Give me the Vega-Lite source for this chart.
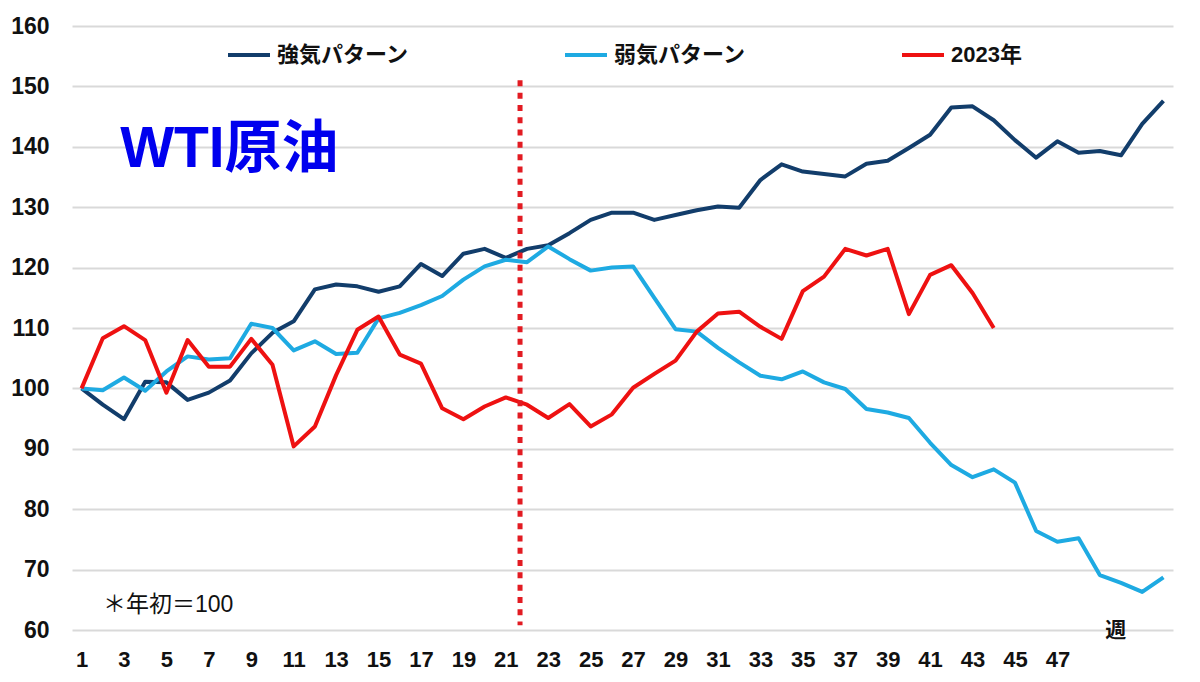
{
  "$schema": "https://vega.github.io/schema/vega-lite/v6.json",
  "description": "WTI原油 強気/弱気パターンと2023年の推移（年初=100）",
  "width": 1101,
  "height": 604,
  "autosize": "none",
  "padding": {"left": 72, "top": 26, "right": 27, "bottom": 52},
  "background": "white",
  "config": {
    "view": {"stroke": null},
    "axis": {
      "labelFont": "Liberation Sans",
      "labelFontWeight": "bold",
      "labelColor": "#111111",
      "domain": false,
      "ticks": false,
      "title": null
    },
    "legend": {
      "orient": "none",
      "legendX": 154,
      "legendY": 6,
      "direction": "horizontal",
      "title": null,
      "symbolType": "stroke",
      "symbolSize": 1764,
      "symbolStrokeWidth": 4,
      "labelFont": "Liberation Sans, Noto Sans CJK JP",
      "labelFontSize": 22,
      "labelFontWeight": "bold",
      "labelColor": "#111111",
      "labelOffset": 5,
      "columnPadding": 147
    }
  },
  "datasets": {
    "series": [
      {"week": 1, "series": "強気パターン", "value": 100},
      {"week": 2, "series": "強気パターン", "value": 97.3},
      {"week": 3, "series": "強気パターン", "value": 94.9},
      {"week": 4, "series": "強気パターン", "value": 101.1},
      {"week": 5, "series": "強気パターン", "value": 101},
      {"week": 6, "series": "強気パターン", "value": 98.1},
      {"week": 7, "series": "強気パターン", "value": 99.3},
      {"week": 8, "series": "強気パターン", "value": 101.3},
      {"week": 9, "series": "強気パターン", "value": 105.8},
      {"week": 10, "series": "強気パターン", "value": 109.2},
      {"week": 11, "series": "強気パターン", "value": 111.1},
      {"week": 12, "series": "強気パターン", "value": 116.4},
      {"week": 13, "series": "強気パターン", "value": 117.2},
      {"week": 14, "series": "強気パターン", "value": 116.9},
      {"week": 15, "series": "強気パターン", "value": 116},
      {"week": 16, "series": "強気パターン", "value": 116.9},
      {"week": 17, "series": "強気パターン", "value": 120.6},
      {"week": 18, "series": "強気パターン", "value": 118.6},
      {"week": 19, "series": "強気パターン", "value": 122.3},
      {"week": 20, "series": "強気パターン", "value": 123.1},
      {"week": 21, "series": "強気パターン", "value": 121.6},
      {"week": 22, "series": "強気パターン", "value": 123.1},
      {"week": 23, "series": "強気パターン", "value": 123.7},
      {"week": 24, "series": "強気パターン", "value": 125.7},
      {"week": 25, "series": "強気パターン", "value": 127.9},
      {"week": 26, "series": "強気パターン", "value": 129.1},
      {"week": 27, "series": "強気パターン", "value": 129.1},
      {"week": 28, "series": "強気パターン", "value": 127.9},
      {"week": 29, "series": "強気パターン", "value": 128.7},
      {"week": 30, "series": "強気パターン", "value": 129.5},
      {"week": 31, "series": "強気パターン", "value": 130.1},
      {"week": 32, "series": "強気パターン", "value": 129.9},
      {"week": 33, "series": "強気パターン", "value": 134.5},
      {"week": 34, "series": "強気パターン", "value": 137.1},
      {"week": 35, "series": "強気パターン", "value": 135.9},
      {"week": 36, "series": "強気パターン", "value": 135.5},
      {"week": 37, "series": "強気パターン", "value": 135.1},
      {"week": 38, "series": "強気パターン", "value": 137.2},
      {"week": 39, "series": "強気パターン", "value": 137.7},
      {"week": 40, "series": "強気パターン", "value": 139.8},
      {"week": 41, "series": "強気パターン", "value": 142},
      {"week": 42, "series": "強気パターン", "value": 146.5},
      {"week": 43, "series": "強気パターン", "value": 146.7},
      {"week": 44, "series": "強気パターン", "value": 144.4},
      {"week": 45, "series": "強気パターン", "value": 141.1},
      {"week": 46, "series": "強気パターン", "value": 138.2},
      {"week": 47, "series": "強気パターン", "value": 140.9},
      {"week": 48, "series": "強気パターン", "value": 139},
      {"week": 49, "series": "強気パターン", "value": 139.3},
      {"week": 50, "series": "強気パターン", "value": 138.6},
      {"week": 51, "series": "強気パターン", "value": 143.8},
      {"week": 52, "series": "強気パターン", "value": 147.6},
      {"week": 1, "series": "弱気パターン", "value": 100},
      {"week": 2, "series": "弱気パターン", "value": 99.7},
      {"week": 3, "series": "弱気パターン", "value": 101.8},
      {"week": 4, "series": "弱気パターン", "value": 99.6},
      {"week": 5, "series": "弱気パターン", "value": 102.8},
      {"week": 6, "series": "弱気パターン", "value": 105.3},
      {"week": 7, "series": "弱気パターン", "value": 104.8},
      {"week": 8, "series": "弱気パターン", "value": 105},
      {"week": 9, "series": "弱気パターン", "value": 110.7},
      {"week": 10, "series": "弱気パターン", "value": 110},
      {"week": 11, "series": "弱気パターン", "value": 106.3},
      {"week": 12, "series": "弱気パターン", "value": 107.8},
      {"week": 13, "series": "弱気パターン", "value": 105.7},
      {"week": 14, "series": "弱気パターン", "value": 105.9},
      {"week": 15, "series": "弱気パターン", "value": 111.6},
      {"week": 16, "series": "弱気パターン", "value": 112.5},
      {"week": 17, "series": "弱気パターン", "value": 113.8},
      {"week": 18, "series": "弱気パターン", "value": 115.3},
      {"week": 19, "series": "弱気パターン", "value": 118},
      {"week": 20, "series": "弱気パターン", "value": 120.2},
      {"week": 21, "series": "弱気パターン", "value": 121.3},
      {"week": 22, "series": "弱気パターン", "value": 120.9},
      {"week": 23, "series": "弱気パターン", "value": 123.5},
      {"week": 24, "series": "弱気パターン", "value": 121.4},
      {"week": 25, "series": "弱気パターン", "value": 119.5},
      {"week": 26, "series": "弱気パターン", "value": 120},
      {"week": 27, "series": "弱気パターン", "value": 120.2},
      {"week": 28, "series": "弱気パターン", "value": 115},
      {"week": 29, "series": "弱気パターン", "value": 109.8},
      {"week": 30, "series": "弱気パターン", "value": 109.4},
      {"week": 31, "series": "弱気パターン", "value": 106.7},
      {"week": 32, "series": "弱気パターン", "value": 104.3},
      {"week": 33, "series": "弱気パターン", "value": 102.1},
      {"week": 34, "series": "弱気パターン", "value": 101.5},
      {"week": 35, "series": "弱気パターン", "value": 102.8},
      {"week": 36, "series": "弱気パターン", "value": 101},
      {"week": 37, "series": "弱気パターン", "value": 99.9},
      {"week": 38, "series": "弱気パターン", "value": 96.6},
      {"week": 39, "series": "弱気パターン", "value": 96},
      {"week": 40, "series": "弱気パターン", "value": 95.1},
      {"week": 41, "series": "弱気パターン", "value": 91},
      {"week": 42, "series": "弱気パターン", "value": 87.3},
      {"week": 43, "series": "弱気パターン", "value": 85.3},
      {"week": 44, "series": "弱気パターン", "value": 86.6},
      {"week": 45, "series": "弱気パターン", "value": 84.4},
      {"week": 46, "series": "弱気パターン", "value": 76.4},
      {"week": 47, "series": "弱気パターン", "value": 74.6},
      {"week": 48, "series": "弱気パターン", "value": 75.2},
      {"week": 49, "series": "弱気パターン", "value": 69.1},
      {"week": 50, "series": "弱気パターン", "value": 67.8},
      {"week": 51, "series": "弱気パターン", "value": 66.3},
      {"week": 52, "series": "弱気パターン", "value": 68.7},
      {"week": 1, "series": "2023年", "value": 100},
      {"week": 2, "series": "2023年", "value": 108.3},
      {"week": 3, "series": "2023年", "value": 110.3},
      {"week": 4, "series": "2023年", "value": 108},
      {"week": 5, "series": "2023年", "value": 99.3},
      {"week": 6, "series": "2023年", "value": 108},
      {"week": 7, "series": "2023年", "value": 103.6},
      {"week": 8, "series": "2023年", "value": 103.6},
      {"week": 9, "series": "2023年", "value": 108.2},
      {"week": 10, "series": "2023年", "value": 103.9},
      {"week": 11, "series": "2023年", "value": 90.4},
      {"week": 12, "series": "2023年", "value": 93.7},
      {"week": 13, "series": "2023年", "value": 102.2},
      {"week": 14, "series": "2023年", "value": 109.7},
      {"week": 15, "series": "2023年", "value": 111.9},
      {"week": 16, "series": "2023年", "value": 105.6},
      {"week": 17, "series": "2023年", "value": 104.1},
      {"week": 18, "series": "2023年", "value": 96.7},
      {"week": 19, "series": "2023年", "value": 94.9},
      {"week": 20, "series": "2023年", "value": 97},
      {"week": 21, "series": "2023年", "value": 98.5},
      {"week": 22, "series": "2023年", "value": 97.3},
      {"week": 23, "series": "2023年", "value": 95.1},
      {"week": 24, "series": "2023年", "value": 97.4},
      {"week": 25, "series": "2023年", "value": 93.7},
      {"week": 26, "series": "2023年", "value": 95.7},
      {"week": 27, "series": "2023年", "value": 100.1},
      {"week": 28, "series": "2023年", "value": 102.4},
      {"week": 29, "series": "2023年", "value": 104.6},
      {"week": 30, "series": "2023年", "value": 109.4},
      {"week": 31, "series": "2023年", "value": 112.4},
      {"week": 32, "series": "2023年", "value": 112.7},
      {"week": 33, "series": "2023年", "value": 110.2},
      {"week": 34, "series": "2023年", "value": 108.2},
      {"week": 35, "series": "2023年", "value": 116.1},
      {"week": 36, "series": "2023年", "value": 118.5},
      {"week": 37, "series": "2023年", "value": 123.1},
      {"week": 38, "series": "2023年", "value": 122},
      {"week": 39, "series": "2023年", "value": 123.1},
      {"week": 40, "series": "2023年", "value": 112.3},
      {"week": 41, "series": "2023年", "value": 118.8},
      {"week": 42, "series": "2023年", "value": 120.4},
      {"week": 43, "series": "2023年", "value": 115.8},
      {"week": 44, "series": "2023年", "value": 110}
    ]
  },
  "layer": [
    {
      "data": {"name": "series"},
      "mark": {"type": "line", "strokeWidth": 4, "strokeJoin": "round", "clip": false},
      "encoding": {
        "x": {
          "field": "week",
          "type": "quantitative",
          "scale": {"domain": [0.55, 52.45], "nice": false, "zero": false},
          "axis": {
            "values": [1, 3, 5, 7, 9, 11, 13, 15, 17, 19, 21, 23, 25, 27, 29, 31, 33, 35, 37, 39, 41, 43, 45, 47],
            "grid": false,
            "labelFontSize": 22,
            "labelPadding": 19
          }
        },
        "y": {
          "field": "value",
          "type": "quantitative",
          "scale": {"domain": [60, 160], "nice": false, "zero": false},
          "axis": {
            "values": [60, 70, 80, 90, 100, 110, 120, 130, 140, 150, 160],
            "grid": true,
            "gridColor": "#d9d9d9",
            "gridWidth": 2,
            "labelFontSize": 23,
            "labelPadding": 23
          }
        },
        "color": {
          "field": "series",
          "type": "nominal",
          "sort": null,
          "scale": {
            "domain": ["強気パターン", "弱気パターン", "2023年"],
            "range": ["#123d6b", "#1eaae2", "#ee1111"]
          }
        }
      }
    },
    {
      "data": {"values": [{}]},
      "mark": {"type": "rule", "color": "#e21b22", "strokeWidth": 5, "strokeDash": [6, 6.3]},
      "encoding": {
        "x": {"datum": 21.67, "type": "quantitative"},
        "y": {"datum": 151, "type": "quantitative"},
        "y2": {"datum": 60.8}
      }
    },
    {
      "data": {"values": [{}]},
      "mark": {
        "type": "text",
        "text": "WTI原油",
        "align": "left",
        "baseline": "alphabetic",
        "font": "Liberation Sans, Noto Sans CJK JP",
        "fontSize": 57,
        "fontWeight": "bold",
        "color": "#0000ee"
      },
      "encoding": {
        "x": {"datum": 2.82, "type": "quantitative"},
        "y": {"datum": 136.6, "type": "quantitative"}
      }
    },
    {
      "data": {"values": [{}]},
      "mark": {
        "type": "text",
        "text": "＊年初＝100",
        "align": "left",
        "baseline": "middle",
        "font": "Liberation Sans, Noto Sans CJK JP",
        "fontSize": 23,
        "color": "#111111"
      },
      "encoding": {
        "x": {"datum": 2.01, "type": "quantitative"},
        "y": {"datum": 64.1, "type": "quantitative"}
      }
    },
    {
      "data": {"values": [{}]},
      "mark": {
        "type": "text",
        "text": "週",
        "align": "center",
        "baseline": "middle",
        "font": "Noto Sans CJK JP",
        "fontSize": 21,
        "fontWeight": "bold",
        "color": "#111111"
      },
      "encoding": {
        "x": {"datum": 49.75, "type": "quantitative"},
        "y": {"datum": 59.9, "type": "quantitative"}
      }
    }
  ]
}
